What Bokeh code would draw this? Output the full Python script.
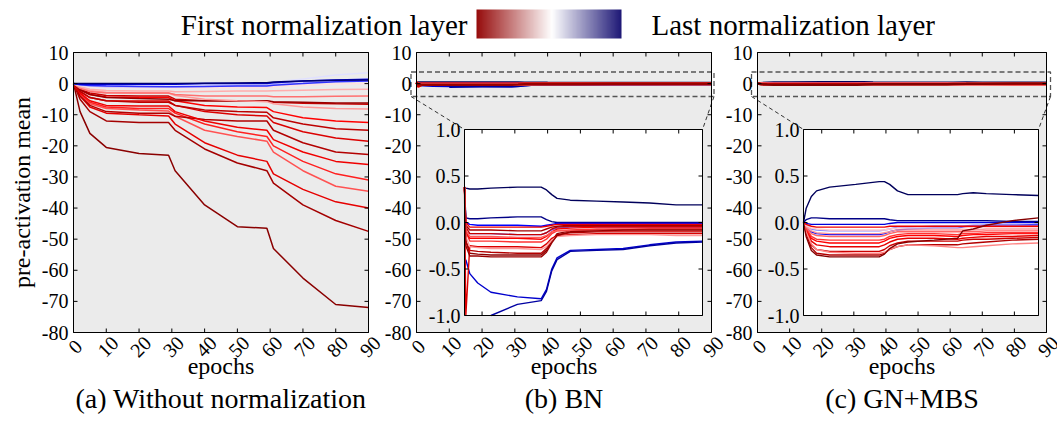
import math
import numpy as np
from bokeh.plotting import figure
from bokeh.models import Range1d, LinearColorMapper
from bokeh.embed import file_html
from bokeh.resources import INLINE
from bokeh.core.properties import value

FONT = "Liberation Serif"

# ---------------- data ----------------
X_TICKS = [0, 10, 20, 30, 40, 50, 60, 70, 80, 90]
Y_TICKS = [10, 0, -10, -20, -30, -40, -50, -60, -70, -80]
X_TICK_LABELS = ["0", "10", "20", "30", "40", "50", "60", "70", "80", "90"]
Y_TICK_LABELS = ["10", "0", "-10", "-20", "-30", "-40", "-50", "-60", "-70", "-80"]
INSET_Y_TICKS = [1.0, 0.5, 0.0, -0.5, -1.0]
INSET_Y_LABELS = ["1.0", "0.5", "0.0", "-0.5", "-1.0"]
TITLES = ["(a) Without normalization", "(b) BN", "(c) GN+MBS"]
X_LABEL = "epochs"
Y_LABEL = "pre-activation mean"
LEGEND_LEFT = "First normalization layer"
LEGEND_RIGHT = "Last normalization layer"

# (a) without normalization: epochs and per-layer means (layer position 0=first, 1=last)
EPOCHS_A = [0, 2, 5, 10, 20, 29, 31, 40, 50, 59, 61, 70, 80, 90]
LAYER_POS_A = [0.02, 0.07, 0.20, 0.33, 0.28, 0.10, 0.22, 0.18, 0.12, 0.25, 0.14, 0.05,
               0.40, 0.36, 0.42, 0.47, 0.53, 0.56, 0.70, 0.78, 0.95]
SERIES_A = [
    [0, -9, -16, -20.5, -22.5, -23, -28, -39, -46, -46.5, -53, -62.5, -71, -72],
    [0, -5, -9, -12, -12.5, -12.5, -15, -21, -25.5, -28, -32, -39, -44, -47.5],
    [0, -4, -7.5, -9.5, -10, -10.4, -13, -19, -23, -25, -29, -34, -38, -40],
    [0, -3.5, -6.5, -8, -8.5, -8.8, -10.5, -15, -17, -18.5, -22, -28, -33, -34.6],
    [0, -3.2, -6, -7.5, -8, -8, -9.5, -13, -15.5, -17, -20, -25, -29, -31],
    [0, -4, -7, -9, -9.5, -9.5, -10.5, -11.5, -12, -12, -15, -19, -22, -22.8],
    [0, -3, -5.5, -7, -7.2, -7.2, -9, -12, -14, -15, -18, -22, -25, -26],
    [0, -2.5, -4.5, -5.5, -5.6, -5.6, -7, -9, -10, -10.4, -12.5, -15.5, -17.5, -18.5],
    [0, -2.5, -4.5, -5.5, -6, -6, -7, -8.5, -9, -9.2, -11, -13, -14.5, -15],
    [0, -2, -3.5, -4.3, -4.5, -4.5, -5.5, -7, -7.5, -7.7, -9, -11, -12, -12.5],
    [0, -1.8, -3, -3.8, -4, -4, -5, -5.5, -5.6, -5.6, -6, -6.3, -6.5, -6.6],
    [0, -2, -3.5, -4.5, -4.8, -5, -5.5, -5.5, -5.5, -5.5, -5.8, -6, -6.2, -6.2],
    [0, -1.2, -2.2, -2.8, -3, -3, -3.8, -5, -5.5, -5.8, -6.5, -7.5, -8, -8.2],
    [0, -1.5, -2.5, -3, -3, -3, -3.5, -4, -4, -4, -4.2, -4.2, -4.1, -4],
    [0, -1, -1.8, -2.2, -2.4, -2.4, -2.6, -2.5, -2.4, -2.4, -2.3, -2.1, -1.9, -1.8],
    [0, -0.6, -1, -1.2, -1.3, -1.3, -1.4, -1.4, -1.3, -1.3, -1, -0.5, -0.1, 0],
    [0, -0.3, -0.5, -0.5, -0.5, -0.5, -0.5, -0.3, -0.1, 0, 0.5, 1.5, 2.8, 3.5],
    [0, -0.5, -0.8, -1, -1, -1, -1, -0.9, -0.7, -0.5, -0.2, 0.3, 0.8, 1.0],
    [0, -0.4, -0.6, -0.8, -0.9, -1, -1, -0.9, -0.8, -0.8, -0.5, 0, 0.6, 0.8],
    [0, -0.2, -0.3, -0.3, -0.2, -0.2, -0.2, 0, 0, 0, 0.3, 0.8, 1.2, 1.4],
    [0, 0, 0, 0, 0, 0, 0, 0.1, 0.2, 0.3, 0.5, 0.8, 1.1, 1.2],
]

# (b) BN
nan = float("nan")
EPOCHS_B = [0, 0.5, 2, 5, 10, 20, 29, 31, 33, 35, 40, 50, 60, 70, 80, 90]
LAYER_POS_B = [0.98, 0.82, 0.88, 0.92, 0.75, 0.65, 0.03, 0.10, 0.18, 0.30, 0.24, 0.14, 0.07, 0.40, 0.21, 0.34, 0.05]
SERIES_B = [
    [0.38, 0.37, 0.36, 0.36, 0.37, 0.38, 0.38, 0.35, 0.3, 0.26, 0.24, 0.23, 0.22, 0.21, 0.19, 0.19],
    [nan, -0.4, -0.55, -0.65, -0.75, -0.8, -0.82, -0.72, -0.5, -0.38, -0.3, -0.29, -0.28, -0.24, -0.21, -0.2],
    [nan, nan, nan, nan, -1.0, -0.88, -0.84, -0.74, -0.52, -0.4, -0.31, -0.3, -0.29, -0.25, -0.22, -0.21],
    [0.38, 0.05, 0.04, 0.04, 0.05, 0.06, 0.06, 0.03, 0.01, 0.0, 0.0, 0.0, 0.0, 0.0, 0.0, 0.0],
    [0.38, 0.0, -0.02, -0.03, -0.03, -0.03, -0.04, -0.03, -0.02, -0.01, -0.01, -0.01, -0.01, -0.01, -0.01, -0.01],
    [0.38, -0.1, -0.12, -0.12, -0.12, -0.13, -0.13, -0.11, -0.08, -0.06, -0.05, -0.05, -0.05, -0.05, -0.05, -0.05],
    [0.38, -0.2, -0.33, -0.34, -0.35, -0.35, -0.35, -0.3, -0.2, -0.12, -0.09, -0.08, -0.08, -0.07, -0.07, -0.07],
    [0.38, -0.2, -0.3, -0.31, -0.32, -0.33, -0.33, -0.28, -0.19, -0.13, -0.11, -0.1, -0.1, -0.1, -0.1, -0.1],
    [0.38, -1.0, -0.25, -0.26, -0.26, -0.26, -0.27, -0.23, -0.17, -0.14, -0.13, -0.12, -0.12, -0.12, -0.12, -0.12],
    [0.38, -0.1, -0.2, -0.2, -0.2, -0.21, -0.21, -0.18, -0.12, -0.09, -0.08, -0.07, -0.07, -0.07, -0.07, -0.07],
    [0.38, -0.1, -0.17, -0.17, -0.17, -0.17, -0.18, -0.15, -0.1, -0.07, -0.06, -0.05, -0.05, -0.05, -0.05, -0.05],
    [0.38, -0.05, -0.12, -0.12, -0.12, -0.13, -0.13, -0.11, -0.07, -0.05, -0.04, -0.04, -0.04, -0.04, -0.04, -0.04],
    [0.38, -0.03, -0.08, -0.08, -0.08, -0.09, -0.09, -0.07, -0.05, -0.04, -0.03, -0.03, -0.03, -0.03, -0.03, -0.03],
    [0.38, -0.15, -0.26, -0.27, -0.28, -0.28, -0.29, -0.26, -0.19, -0.15, -0.14, -0.13, -0.13, -0.13, -0.14, -0.14],
    [0.38, 0.0, -0.05, -0.05, -0.05, -0.05, -0.05, -0.04, -0.03, -0.02, -0.02, -0.02, -0.02, -0.02, -0.02, -0.02],
    [0.38, -0.08, -0.15, -0.15, -0.15, -0.16, -0.16, -0.14, -0.1, -0.09, -0.09, -0.09, -0.09, -0.09, -0.09, -0.09],
    [0.38, -0.25, -0.36, -0.36, -0.37, -0.37, -0.37, -0.32, -0.22, -0.14, -0.1, -0.09, -0.08, -0.08, -0.08, -0.08],
]

# (c) GN+MBS
EPOCHS_C = [0, 1, 3, 5, 10, 20, 29, 31, 33, 36, 40, 50, 59, 61, 65, 70, 80, 90]
LAYER_POS_C = [0.98, 0.92, 0.80, 0.75, 0.62, 0.10, 0.15, 0.20, 0.25, 0.30, 0.35, 0.40, 0.45, 0.38, 0.22, 0.01]
SERIES_C = [
    [0, 0.15, 0.28, 0.34, 0.38, 0.41, 0.44, 0.44, 0.41, 0.34, 0.3, 0.3, 0.3, 0.31, 0.32, 0.31, 0.3, 0.29],
    [0, 0.03, 0.05, 0.05, 0.04, 0.04, 0.04, 0.04, 0.03, 0.02, 0.02, 0.02, 0.02, 0.02, 0.02, 0.02, 0.01, 0.01],
    [0, -0.01, -0.02, -0.02, -0.02, -0.02, -0.02, -0.02, -0.01, 0, 0, 0, 0, 0, 0, 0, 0, 0],
    [0, -0.05, -0.1, -0.12, -0.13, -0.13, -0.13, -0.12, -0.1, -0.08, -0.07, -0.06, -0.06, -0.05, -0.04, -0.03, -0.03, -0.02],
    [0, -0.03, -0.07, -0.08, -0.09, -0.09, -0.09, -0.08, -0.07, -0.05, -0.05, -0.04, -0.04, -0.04, -0.03, -0.03, -0.03, -0.03],
    [0, -0.12, -0.27, -0.33, -0.35, -0.35, -0.35, -0.33, -0.29, -0.26, -0.24, -0.24, -0.24, -0.23, -0.22, -0.21, -0.19, -0.18],
    [0, -0.1, -0.24, -0.29, -0.31, -0.31, -0.31, -0.29, -0.25, -0.22, -0.2, -0.2, -0.2, -0.19, -0.18, -0.18, -0.17, -0.16],
    [0, -0.08, -0.2, -0.24, -0.26, -0.26, -0.26, -0.24, -0.21, -0.18, -0.17, -0.17, -0.18, -0.17, -0.16, -0.15, -0.15, -0.14],
    [0, -0.07, -0.17, -0.2, -0.22, -0.22, -0.22, -0.2, -0.17, -0.15, -0.14, -0.14, -0.15, -0.14, -0.13, -0.13, -0.12, -0.12],
    [0, -0.06, -0.15, -0.18, -0.19, -0.19, -0.19, -0.18, -0.15, -0.13, -0.12, -0.12, -0.13, -0.12, -0.12, -0.11, -0.11, -0.11],
    [0, -0.05, -0.12, -0.14, -0.15, -0.15, -0.15, -0.14, -0.12, -0.1, -0.1, -0.1, -0.1, -0.1, -0.1, -0.09, -0.09, -0.09],
    [0, -0.04, -0.09, -0.11, -0.12, -0.12, -0.12, -0.11, -0.1, -0.08, -0.08, -0.08, -0.08, -0.08, -0.08, -0.07, -0.07, -0.07],
    [0, -0.03, -0.06, -0.07, -0.08, -0.08, -0.08, -0.08, -0.07, -0.06, -0.06, -0.06, -0.06, -0.06, -0.05, -0.05, -0.05, -0.05],
    [0, -0.1, -0.23, -0.29, -0.32, -0.33, -0.33, -0.32, -0.29, -0.26, -0.24, -0.25, -0.27, -0.27, -0.26, -0.25, -0.23, -0.22],
    [0, -0.02, -0.04, -0.05, -0.05, -0.05, -0.05, -0.05, -0.04, -0.04, -0.04, -0.04, -0.04, -0.04, -0.04, -0.04, -0.04, -0.04],
    [0, -0.15, -0.3, -0.35, -0.37, -0.37, -0.37, -0.34, -0.28, -0.23, -0.21, -0.19, -0.17, -0.09, -0.07, -0.03, 0.02, 0.05],
]

# ---------------- colours ----------------
LINE_ANCHORS = [(0.0, (128, 0, 0)), (0.25, (255, 0, 0)), (0.5, (255, 255, 255)),
                (0.75, (0, 0, 255)), (1.0, (0, 0, 77))]
BAR_ANCHORS = [(0.0, (150, 12, 12)), (0.52, (255, 255, 255)), (1.0, (30, 24, 118))]


def interp_color(anchors, t):
    for (t0, c0), (t1, c1) in zip(anchors[:-1], anchors[1:]):
        if t <= t1:
            f = (t - t0) / (t1 - t0)
            return "#%02x%02x%02x" % tuple(int(round(a + (b - a) * f)) for a, b in zip(c0, c1))
    return "#%02x%02x%02x" % anchors[-1][1]


def layer_color(t):
    return interp_color(LINE_ANCHORS, t)


BAR_PALETTE = [interp_color(BAR_ANCHORS, i / 255) for i in range(256)]

# ---------------- layout (screenshot pixels) ----------------
W, H = 1057, 422
ORIGIN_X, ORIGIN_Y = 0, 0
BG = "#ebebeb"
TICK_FS = "20px"
LABEL_FS = "24px"
TITLE_FS = "28px"
HEAD_FS = "29px"
TOP, BOT = 52, 332
PANEL_X = [(73, 368), (416, 711), (757, 1046)]
INSET_X = [None, (464, 702), (803, 1038)]
INSET_Y = (129, 315)
ZOOM_BOX = [None, (410.5, 713.5), (751, 1050)]
ZOOM_BOX_Y = (71.5, 96)


def fx(px):
    return px - ORIGIN_X


def fy(py):
    return H + ORIGIN_Y - py


p = figure(width=W, height=H, x_range=Range1d(0, W), y_range=Range1d(0, H),
           x_axis_type=None, y_axis_type=None, output_backend="svg",
           toolbar_location=None, min_border=0, outline_line_color=None)
p.grid.visible = False

# ---------------- header (colour legend) ----------------
p.text(x=[fx(467)], y=[fy(24)], text=[LEGEND_LEFT], text_align="right", text_baseline="middle",
       text_font=value(FONT), text_font_size=HEAD_FS, text_color="black")
p.image(image=[np.linspace(0, 1, 256).reshape(1, 256)], x=fx(476), y=fy(38), dw=145, dh=29,
        color_mapper=LinearColorMapper(palette=BAR_PALETTE, low=0, high=1))
p.text(x=[fx(651)], y=[fy(24)], text=[LEGEND_RIGHT], text_align="left", text_baseline="middle",
       text_font=value(FONT), text_font_size=HEAD_FS, text_color="black")

# y axis label
p.text(x=[fx(21)], y=[fy((TOP + BOT) / 2)], text=[Y_LABEL], angle=math.pi / 2,
       text_align="center", text_baseline="middle",
       text_font=value(FONT), text_font_size=LABEL_FS, text_color="black")


def text_kw(size):
    return dict(text_font=value(FONT), text_font_size=size, text_color="black")


def make_panel(i, epochs, series, layer_pos, lw):
    x0p, x1p = PANEL_X[i]
    sp = p.subplot(x_source=Range1d(0, 90), y_source=Range1d(-80, 10),
                   x_target=Range1d(fx(x0p), fx(x1p)), y_target=Range1d(fy(BOT), fy(TOP)))
    pxx = (x1p - x0p) / 90.0
    pxy = (BOT - TOP) / 90.0
    sp.quad(left=[0], right=[90], bottom=[-80], top=[10], fill_color=BG, line_color=None)
    sp.multi_line(xs=[epochs] * len(series), ys=series,
                  line_color=[layer_color(t) for t in layer_pos], line_width=lw)
    if INSET_X[i] is not None:
        add_inset(i, sp, pxy, epochs, series, layer_pos)
    # frame and inward ticks
    sp.quad(left=[0], right=[90], bottom=[-80], top=[10], fill_color=None,
            line_color="black", line_width=1)
    nx, ny = len(X_TICKS), len(Y_TICKS)
    tx, ty = 4 / pxx, 4 / pxy
    sp.segment(x0=X_TICKS, x1=X_TICKS, y0=[-80] * nx, y1=[-80 + ty] * nx, line_color="black")
    sp.segment(x0=X_TICKS, x1=X_TICKS, y0=[10] * nx, y1=[10 - ty] * nx, line_color="black")
    sp.segment(x0=[0] * ny, x1=[tx] * ny, y0=Y_TICKS, y1=Y_TICKS, line_color="black")
    sp.segment(x0=[90] * ny, x1=[90 - tx] * ny, y0=Y_TICKS, y1=Y_TICKS, line_color="black")
    # tick labels
    sp.text(x=[-5 / pxx] * ny, y=Y_TICKS, text=Y_TICK_LABELS, text_align="right",
            text_baseline="middle", **text_kw(TICK_FS))
    sp.text(x=[t + 1.5 / pxx for t in X_TICKS], y=[-80 - 14 / pxy] * nx, text=X_TICK_LABELS,
            angle=math.pi / 4, text_align="center", text_baseline="middle", **text_kw(TICK_FS))
    # axis label and panel title
    sp.text(x=[45], y=[-80 - 33 / pxy], text=[X_LABEL], text_align="center",
            text_baseline="middle", **text_kw(LABEL_FS))
    sp.text(x=[45], y=[-80 - 66 / pxy], text=[TITLES[i]], text_align="center",
            text_baseline="middle", **text_kw(TITLE_FS))


def add_inset(i, sp, pxy, epochs, series, layer_pos):
    ix0, ix1 = INSET_X[i]
    iy_top, iy_bot = INSET_Y
    bx0, bx1 = ZOOM_BOX[i]
    by_top, by_bot = ZOOM_BOX_Y
    # dashed zoom box and connectors (screen-pixel geometry)
    p.multi_line(xs=[[fx(bx0), fx(bx1), fx(bx1), fx(bx0), fx(bx0)]],
                 ys=[[fy(by_top), fy(by_top), fy(by_bot), fy(by_bot), fy(by_top)]],
                 line_color="#555555", line_dash="5 3", line_width=1.3)
    p.multi_line(xs=[[fx(bx0), fx(ix0)], [fx(bx1), fx(ix1)]],
                 ys=[[fy(by_bot), fy(iy_top)], [fy(by_bot), fy(iy_top)]],
                 line_color="#333333", line_dash="4 3", line_width=1)
    ins = p.subplot(x_source=Range1d(0, 90), y_source=Range1d(-1, 1),
                    x_target=Range1d(fx(ix0), fx(ix1)), y_target=Range1d(fy(iy_bot), fy(iy_top)))
    ins.quad(left=[0], right=[90], bottom=[-1], top=[1], fill_color="white", line_color=None)
    ins.multi_line(xs=[epochs] * len(series), ys=series,
                   line_color=[layer_color(t) for t in layer_pos], line_width=1.4)
    ins.quad(left=[0], right=[90], bottom=[-1], top=[1], fill_color=None,
             line_color="black", line_width=1)
    ipx = (ix1 - ix0) / 90.0
    n = len(INSET_Y_TICKS)
    ins.segment(x0=[0] * n, x1=[4 / ipx] * n, y0=INSET_Y_TICKS, y1=INSET_Y_TICKS, line_color="black")
    ins.segment(x0=[90] * n, x1=[90 - 4 / ipx] * n, y0=INSET_Y_TICKS, y1=INSET_Y_TICKS, line_color="black")
    ins.text(x=[-4 / ipx] * n, y=INSET_Y_TICKS, text=INSET_Y_LABELS, text_align="right",
             text_baseline="middle", **text_kw(TICK_FS))
    # inset top/bottom ticks aligned with the main epoch ticks
    v_top = 10 - (iy_top - TOP) / pxy
    v_bot = 10 - (iy_bot - TOP) / pxy
    x0p, x1p = PANEL_X[i]
    pxx = (x1p - x0p) / 90.0
    inner = [t for t in X_TICKS if ix0 + 2 < x0p + t * pxx < ix1 - 2]
    m = len(inner)
    sp.segment(x0=inner, x1=inner, y0=[v_top] * m, y1=[v_top - 4 / pxy] * m, line_color="black")
    sp.segment(x0=inner, x1=inner, y0=[v_bot] * m, y1=[v_bot + 4 / pxy] * m, line_color="black")


make_panel(0, EPOCHS_A, SERIES_A, LAYER_POS_A, 1.5)
make_panel(1, EPOCHS_B, SERIES_B, LAYER_POS_B, 2.5)
make_panel(2, EPOCHS_C, SERIES_C, LAYER_POS_C, 2.5)

open("out.html", "w").write(file_html(p, INLINE))
